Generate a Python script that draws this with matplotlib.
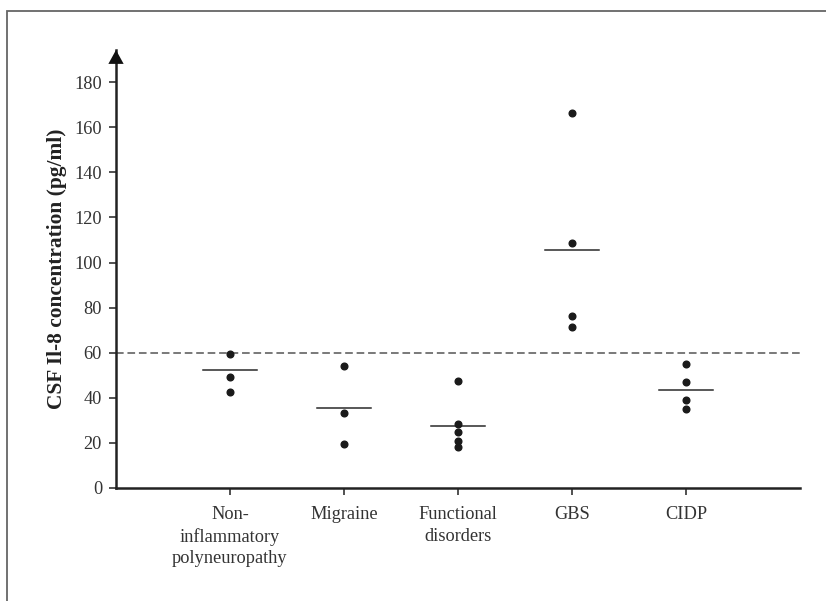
import matplotlib
matplotlib.use("Agg")
import matplotlib.pyplot as plt
from matplotlib.patches import Rectangle

categories = ["Non-\ninflammatory\npolyneuropathy", "Migraine", "Functional\ndisorders", "GBS", "CIDP"]
values = [
    [59.6, 49.4, 42.6],
    [54.3, 33.4, 19.4],
    [47.3, 28.3, 24.8, 21.0, 18.0],
    [166.5, 108.5, 76.3, 71.3],
    [55.1, 46.9, 39.2, 35.2],
]
center_lines = [52.5, 35.5, 27.6, 105.4, 43.6]
cutoff = 60
yticks = [0, 20, 40, 60, 80, 100, 120, 140, 160, 180]

plt.rcParams['font.family'] = ['Liberation Serif', 'DejaVu Serif']

fig = plt.figure(figsize=(8.26, 6.01), dpi=100)
W, H = 826, 601
ax = fig.add_axes([116 / W, 1 - 488 / H, (800 - 116) / W, (488 - 50) / H])

dark = '#1a1a1a'
for i, vals in enumerate(values):
    x = i + 1
    ax.plot([x] * len(vals), vals, 'o', color=dark, markersize=4.8, zorder=3)
    ax.plot([x - 0.24, x + 0.24], [center_lines[i]] * 2, color='#2a2a2a', lw=1.1, zorder=2)

ax.axhline(cutoff, color='#555555', lw=1.1, ls=(0, (5, 2.5)), zorder=1)

ax.set_xlim(0, 6)
ax.set_ylim(0, 194.3)
ax.set_xticks(range(1, len(categories) + 1))
ax.set_xticklabels(categories, linespacing=1.35)
ax.set_yticks(yticks)
for s in ['top', 'right']:
    ax.spines[s].set_visible(False)
for s in ['left', 'bottom']:
    ax.spines[s].set_linewidth(1.8)
    ax.spines[s].set_color('#222222')
ax.tick_params(axis='both', direction='out', length=5, width=1.2, color='#333333',
               labelsize=13.2, labelcolor='#333333')
ax.tick_params(axis='x', pad=8)
ax.tick_params(axis='y', pad=5)

ax.set_ylabel('CSF Il-8 concentration (pg/ml)', fontsize=15.4, fontweight='bold',
              color='#222222', labelpad=5)

ax.annotate('', xy=(0, 1.0), xycoords='axes fraction', xytext=(0, 0.95),
            textcoords='axes fraction',
            arrowprops=dict(arrowstyle='-|>,head_length=1.0,head_width=0.55',
                            color='#111111', lw=0, mutation_scale=10,
                            shrinkA=0, shrinkB=0),
            annotation_clip=False)

border = Rectangle((7 / W, -0.05), 1.1, 1 - 11 / H + 0.05, transform=fig.transFigure,
                   fill=False, edgecolor='#666666', lw=1.3, clip_on=False)
fig.patches.append(border)

fig.savefig('out.png', dpi=100)
